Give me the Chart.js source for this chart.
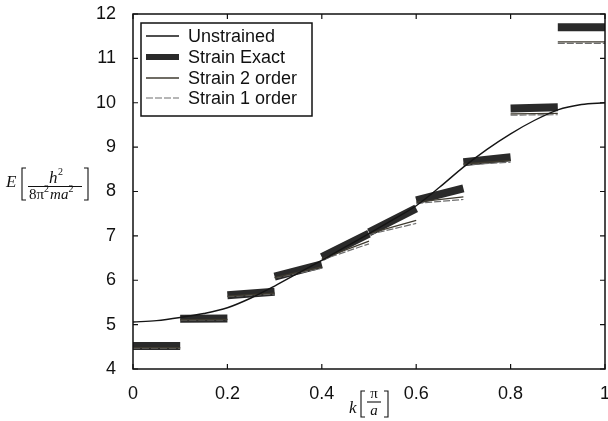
<!DOCTYPE html>
<html>
<head>
  <meta charset="utf-8">
  <title>Strained band energy</title>
  <script src="https://cdn.jsdelivr.net/npm/chart.js"></script>
  <style>
    html, body { margin: 0; padding: 0; background: #fff; }
    canvas { display: block; }
  </style>
</head>
<body>
  <canvas id="bandChart" width="608" height="421"></canvas>

  <script>
    // unstrained band, every 0.05
    const unstrainedK = [0, 0.05, 0.1, 0.15, 0.2, 0.25, 0.3, 0.35, 0.4, 0.45, 0.5,
                         0.55, 0.6, 0.65, 0.7, 0.75, 0.8, 0.85, 0.9, 0.95, 1.0];
    const unstrainedE = [5.06, 5.09, 5.16, 5.25, 5.38, 5.60, 5.87, 6.16, 6.45, 6.75, 7.05,
                         7.36, 7.68, 8.10, 8.55, 8.95, 9.30, 9.60, 9.84, 9.96, 10.0];

    // strained pieces, one per 0.1 wide interval (start / end energy)
    const segK0 = [0, 0.1, 0.2, 0.3, 0.4, 0.5, 0.6, 0.7, 0.8, 0.9];
    const segK1 = [0.1, 0.2, 0.3, 0.4, 0.5, 0.6, 0.7, 0.8, 0.9, 1.0];
    const exactE0  = [4.52, 5.13, 5.66, 6.08, 6.52, 7.08, 7.80, 8.66, 9.87, 11.70];
    const exactE1  = [4.52, 5.14, 5.74, 6.36, 7.05, 7.62, 8.07, 8.77, 9.90, 11.70];
    const order2E0 = [4.48, 5.11, 5.64, 6.06, 6.48, 7.05, 7.76, 8.62, 9.75, 11.37];
    const order2E1 = [4.48, 5.12, 5.71, 6.30, 6.88, 7.35, 7.88, 8.70, 9.76, 11.37];
    const order1E0 = [4.47, 5.10, 5.63, 6.05, 6.46, 7.03, 7.73, 8.60, 9.72, 11.34];
    const order1E1 = [4.47, 5.11, 5.69, 6.27, 6.82, 7.28, 7.82, 8.66, 9.73, 11.34];

    const xTicks = [0, 0.2, 0.4, 0.6, 0.8, 1];
    const yTicks = [4, 5, 6, 7, 8, 9, 10, 11, 12];

    const sans = '"Liberation Sans", Arial, sans-serif';
    const serif = '"Liberation Serif", "Times New Roman", serif';

    function pieces(e0, e1) {
      const pts = [];
      for (let i = 0; i < segK0.length; i++) {
        pts.push({ x: segK0[i], y: e0[i] });
        pts.push({ x: segK1[i], y: e1[i] });
        pts.push({ x: segK1[i], y: null });
      }
      return pts;
    }

    function bracket(ctx, x, top, bottom, dir) {
      ctx.beginPath();
      ctx.moveTo(x + 4 * dir, top);
      ctx.lineTo(x, top);
      ctx.lineTo(x, bottom);
      ctx.lineTo(x + 4 * dir, bottom);
      ctx.stroke();
    }

    const framePlugin = {
      id: 'frame',
      afterDraw(chart) {
        const { ctx, chartArea: a, scales } = chart;
        const sx = scales.x, sy = scales.y;
        ctx.save();

        // box and inward ticks
        ctx.strokeStyle = '#111';
        ctx.lineWidth = 1.5;
        ctx.strokeRect(a.left, a.top, a.right - a.left, a.bottom - a.top);
        ctx.lineWidth = 1.2;
        ctx.beginPath();
        xTicks.forEach(v => {
          const p = sx.getPixelForValue(v);
          ctx.moveTo(p, a.bottom); ctx.lineTo(p, a.bottom - 5);
          ctx.moveTo(p, a.top); ctx.lineTo(p, a.top + 5);
        });
        yTicks.forEach(v => {
          const p = sy.getPixelForValue(v);
          ctx.moveTo(a.left, p); ctx.lineTo(a.left + 5, p);
          ctx.moveTo(a.right, p); ctx.lineTo(a.right - 5, p);
        });
        ctx.stroke();

        // legend box
        ctx.fillStyle = '#fff';
        ctx.fillRect(141, 23, 171, 93);
        ctx.lineWidth = 1.5;
        ctx.strokeRect(141, 23, 171, 93);
        const rows = [36, 57, 78, 98];
        chart.data.datasets.forEach((ds, i) => {
          const yy = rows[i];
          ctx.beginPath();
          ctx.strokeStyle = ds.borderColor;
          ctx.lineWidth = Math.min(ds.borderWidth, 6);
          ctx.setLineDash(ds.borderDash || []);
          ctx.lineCap = 'butt';
          ctx.moveTo(146, yy); ctx.lineTo(179, yy);
          ctx.stroke();
          ctx.setLineDash([]);
          ctx.fillStyle = '#111';
          ctx.font = '18px ' + sans;
          ctx.textBaseline = 'middle';
          ctx.textAlign = 'left';
          ctx.fillText(ds.label, 188, yy + 1);
        });

        // y title  E[ h^2 / 8 pi^2 m a^2 ]
        ctx.fillStyle = '#111';
        ctx.strokeStyle = '#111';
        ctx.lineWidth = 1.1;
        ctx.textBaseline = 'alphabetic';
        ctx.textAlign = 'left';
        ctx.font = 'italic 17px ' + serif;
        ctx.fillText('E', 6, 187);
        bracket(ctx, 22, 168, 200, 1);
        ctx.fillText('h', 49, 183);
        ctx.font = '10px ' + serif;
        ctx.fillText('2', 58, 175);
        ctx.beginPath(); ctx.moveTo(28, 186.5); ctx.lineTo(82, 186.5); ctx.stroke();
        let cx = 29;
        ctx.font = '15px ' + serif;
        ctx.fillText('8\u03c0', cx, 199); cx += ctx.measureText('8\u03c0').width;
        ctx.font = '10px ' + serif;
        ctx.fillText('2', cx, 192); cx += ctx.measureText('2').width + 1;
        ctx.font = 'italic 15px ' + serif;
        ctx.fillText('ma', cx, 199); cx += ctx.measureText('ma').width;
        ctx.font = '10px ' + serif;
        ctx.fillText('2', cx, 192);
        bracket(ctx, 88, 168, 200, -1);

        // x title  k[ pi / a ]
        ctx.font = 'italic 17px ' + serif;
        ctx.fillText('k', 349, 413);
        bracket(ctx, 361, 391, 417, 1);
        ctx.font = '15px ' + serif;
        ctx.textAlign = 'center';
        ctx.fillText('\u03c0', 374, 398);
        ctx.beginPath(); ctx.moveTo(367, 402); ctx.lineTo(381, 402); ctx.stroke();
        ctx.font = 'italic 15px ' + serif;
        ctx.fillText('a', 374, 415);
        bracket(ctx, 388, 391, 417, -1);

        ctx.restore();
      }
    };

    const ctx = document.getElementById('bandChart').getContext('2d');
    new Chart(ctx, {
      type: 'line',
      data: {
        datasets: [
          {
            label: 'Unstrained',
            data: unstrainedK.map((k, i) => ({ x: k, y: unstrainedE[i] })),
            borderColor: '#151515',
            borderWidth: 1.4,
            cubicInterpolationMode: 'monotone',
            order: 1
          },
          {
            label: 'Strain Exact',
            data: pieces(exactE0, exactE1),
            borderColor: '#2a2a2a',
            borderWidth: 8,
            borderCapStyle: 'butt',
            order: 4
          },
          {
            label: 'Strain 2 order',
            data: pieces(order2E0, order2E1),
            borderColor: '#3f3b30',
            borderWidth: 1.3,
            order: 2
          },
          {
            label: 'Strain 1 order',
            data: pieces(order1E0, order1E1),
            borderColor: '#6e6e6e',
            borderWidth: 1.2,
            borderDash: [7, 2],
            order: 3
          }
        ]
      },
      options: {
        responsive: false,
        animation: false,
        devicePixelRatio: 1,
        layout: { autoPadding: false, padding: { top: 14, right: 3, left: 0, bottom: 0 } },
        elements: { point: { radius: 0 }, line: { tension: 0 } },
        plugins: { legend: { display: false }, tooltip: { enabled: false } },
        scales: {
          x: {
            type: 'linear',
            min: 0,
            max: 1,
            afterBuildTicks: s => { s.ticks = xTicks.map(v => ({ value: v })); },
            afterFit: s => { s.height = 52; s.paddingLeft = 0; s.paddingRight = 0; },
            ticks: {
              color: '#111',
              font: { family: sans, size: 18 },
              padding: 6,
              callback: v => String(v)
            },
            grid: { display: false },
            border: { display: false }
          },
          y: {
            min: 4,
            max: 12,
            afterBuildTicks: s => { s.ticks = yTicks.map(v => ({ value: v })); },
            afterFit: s => { s.width = 133; s.paddingTop = 0; s.paddingBottom = 0; },
            ticks: { color: '#111', font: { family: sans, size: 18 }, padding: 9 },
            grid: { display: false },
            border: { display: false }
          }
        }
      },
      plugins: [framePlugin]
    });
  </script>
</body>
</html>
